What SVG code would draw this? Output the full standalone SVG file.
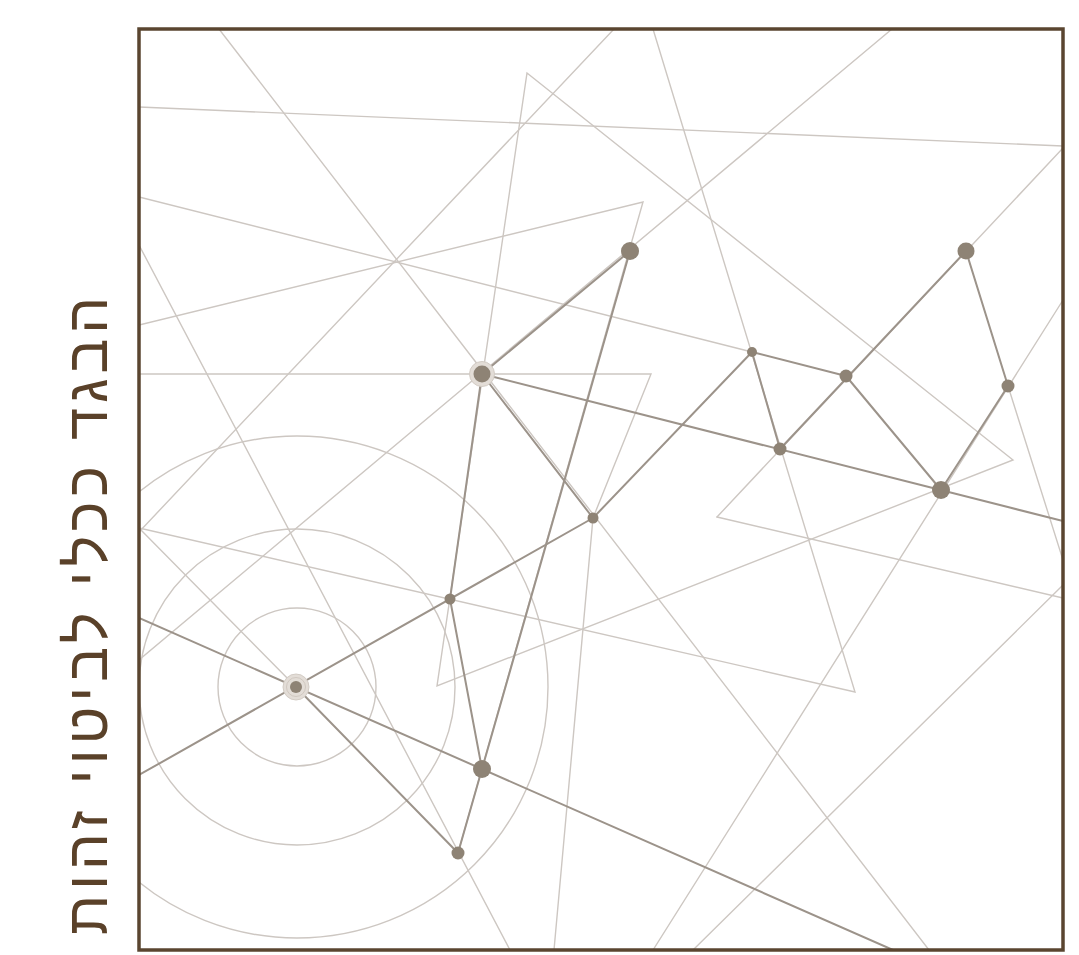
<svg xmlns="http://www.w3.org/2000/svg" width="1079" height="955" viewBox="0 0 1079 955">
<defs>
<style>
.lt{stroke:#cdc7c2;stroke-width:1.4;fill:none;stroke-linecap:round}
.dk{stroke:#9c938a;stroke-width:2;fill:none;stroke-linecap:round}
.nd{fill:#8e8375}
.halo{fill:#e3ddd7;stroke:#d3ccc5;stroke-width:1}
.title{font-family:"Liberation Sans","DejaVu Sans",sans-serif;font-size:58px;fill:#5a4129}
</style>
<clipPath id="frame"><rect x="139" y="29" width="924" height="921"/></clipPath>
</defs>
<rect width="1079" height="955" fill="#ffffff"/>
<g id="circles" clip-path="url(#frame)">
<circle class="lt" cx="297" cy="687" r="79"/>
<circle class="lt" cx="297" cy="687" r="158"/>
<circle class="lt" cx="297" cy="687" r="251"/>
</g>
<g id="light-lines" clip-path="url(#frame)">
<line class="lt" x1="219" y1="29" x2="929" y2="950"/>
<line class="lt" x1="139" y1="107" x2="1063" y2="146"/>
<line class="lt" x1="614" y1="29" x2="139" y2="532"/>
<line class="lt" x1="892" y1="29" x2="139" y2="660"/>
<line class="lt" x1="139" y1="197" x2="752" y2="352"/>
<polyline class="lt" points="139,325 643,202 458,853"/>
<polyline class="lt" points="139,374 651,374 593,518 554,950"/>
<polygon class="lt" points="527,73 1013,460 437,686"/>
<polyline class="lt" points="139,528 855,692 653,29"/>
<line class="lt" x1="139" y1="528" x2="296" y2="687"/>
<line class="lt" x1="139" y1="245" x2="510" y2="950"/>
<line class="lt" x1="717" y1="517" x2="1063" y2="598"/>
<line class="lt" x1="717" y1="517" x2="1063" y2="148"/>
<line class="lt" x1="1063" y1="300" x2="653" y2="950"/>
<line class="lt" x1="1008" y1="386" x2="1063" y2="560"/>
<line class="lt" x1="1063" y1="585" x2="693" y2="950"/>
</g>
<g id="connectors" clip-path="url(#frame)">
<line class="dk" x1="482" y1="374" x2="630" y2="251"/>
<line class="dk" x1="630" y1="251" x2="482" y2="769"/>
<line class="dk" x1="482" y1="769" x2="458" y2="853"/>
<line class="dk" x1="482" y1="374" x2="450" y2="599"/>
<line class="dk" x1="450" y1="599" x2="482" y2="769"/>
<line class="dk" x1="482" y1="374" x2="593" y2="518"/>
<line class="dk" x1="139" y1="775" x2="593" y2="518"/>
<line class="dk" x1="593" y1="518" x2="752" y2="352"/>
<line class="dk" x1="752" y1="352" x2="846" y2="376"/>
<line class="dk" x1="752" y1="352" x2="780" y2="449"/>
<line class="dk" x1="780" y1="449" x2="966" y2="251"/>
<line class="dk" x1="846" y1="376" x2="941" y2="490"/>
<line class="dk" x1="966" y1="251" x2="1008" y2="386"/>
<line class="dk" x1="1008" y1="386" x2="941" y2="490"/>
<line class="dk" x1="482" y1="374" x2="1063" y2="521"/>
<line class="dk" x1="139" y1="618" x2="893" y2="950"/>
<line class="dk" x1="296" y1="687" x2="458" y2="853"/>
</g>
<g id="n3"><circle class="halo" cx="482" cy="374" r="12.5"/><circle class="nd" cx="482" cy="374" r="8.5"/></g>
<g id="n11"><circle class="halo" cx="296" cy="687" r="13"/><circle cx="296" cy="687" r="9.5" fill="none" stroke="#d0c8c0" stroke-width="1"/><circle class="nd" cx="296" cy="687" r="6"/></g>
<g id="n1"><circle class="nd" cx="630" cy="251" r="9"/></g>
<g id="n2"><circle class="nd" cx="966" cy="251" r="8.5"/></g>
<g id="n4"><circle class="nd" cx="752" cy="352" r="5"/></g>
<g id="n5"><circle class="nd" cx="846" cy="376" r="6.5"/></g>
<g id="n6"><circle class="nd" cx="1008" cy="386" r="6.5"/></g>
<g id="n7"><circle class="nd" cx="780" cy="449" r="6.5"/></g>
<g id="n8"><circle class="nd" cx="941" cy="490" r="9"/></g>
<g id="n9"><circle class="nd" cx="593" cy="518" r="5.5"/></g>
<g id="n10"><circle class="nd" cx="450" cy="599" r="5.5"/></g>
<g id="n12"><circle class="nd" cx="482" cy="769" r="9"/></g>
<g id="n13"><circle class="nd" cx="458" cy="853" r="6.5"/></g>
<rect id="frame-border" x="139" y="29" width="924" height="921" fill="none" stroke="#5a4530" stroke-width="3.5"/>
<text id="title" class="title" transform="translate(107,616) rotate(-90)" text-anchor="middle" textLength="638" lengthAdjust="spacing">הבגד ככלי לביטוי זהות</text>
</svg>
